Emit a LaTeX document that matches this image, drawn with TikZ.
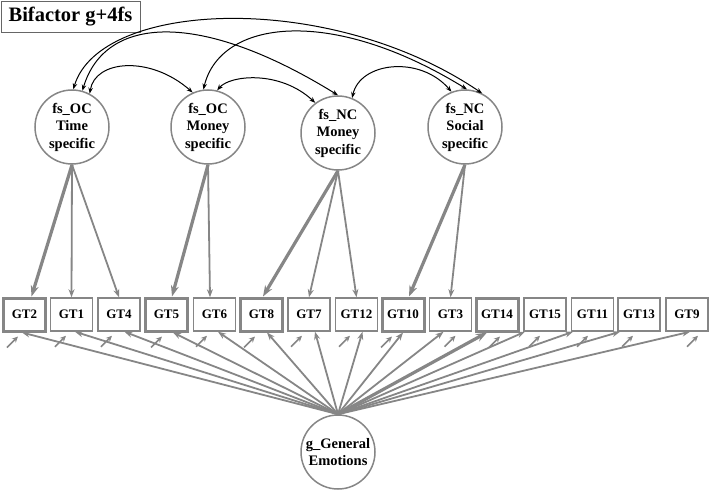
\documentclass[tikz,border=0pt]{standalone}
\usepackage{fontspec}
\setmainfont{Liberation Serif}
\usetikzlibrary{arrows.meta,calc}
\definecolor{lg}{RGB}{134,134,134}
\begin{document}
\begin{tikzpicture}[x=1pt,y=-1pt,
  lat/.style={circle,draw=lg,line width=1.5pt,minimum size=74pt,inner sep=0pt,align=center,
    font=\fontsize{14.5}{17.5}\selectfont\bfseries},
  obs/.style={rectangle,draw=lg,minimum width=42pt,minimum height=33pt,inner sep=0pt,
    font=\fontsize{13}{15}\selectfont\bfseries},
  titlebox/.style={rectangle,draw=black!60,line width=0.8pt,minimum width=139pt,minimum height=31pt,inner sep=0pt,
    font=\fontsize{20.5}{24}\selectfont\bfseries},
  load/.style={draw=lg,line width=1.8pt,-{Stealth[length=8pt,width=6pt]}},
  loadthk/.style={draw=lg,line width=3.2pt,-{Stealth[length=11pt,width=8pt]}},
  res/.style={draw=lg,line width=1.7pt,-{Stealth[length=6pt,width=5.5pt]}},
  cov/.style={draw=black,line width=1pt,{Stealth[length=6pt,width=4.5pt]}-{Stealth[length=6pt,width=4.5pt]}}
]
\useasboundingbox (0,0) rectangle (710,492);

\node[titlebox] (title) at (70.5,16.5) {Bifactor g+4fs};

\node[lat] (T) at (72,127) {fs\textunderscore OC\\Time\\specific};
\node[lat] (O) at (208,127) {fs\textunderscore OC\\Money\\specific};
\node[lat] (M) at (338,133) {fs\textunderscore NC\\Money\\specific};
\node[lat] (S) at (465,127) {fs\textunderscore NC\\Social\\specific};
\node[lat] (g) at (338,452) {g\textunderscore General\\Emotions};

\foreach \n/\x/\w in {GT2/24.5/3, GT1/71.5/1.5, GT4/119/1.5, GT5/166.5/3, GT6/214.5/1.5,
  GT8/261.5/3, GT7/309/1.5, GT12/356.5/1.5, GT10/403/3, GT3/450.5/1.5, GT14/497/3,
  GT15/545/1.5, GT11/592.5/1.5, GT13/639/1.5, GT9/687/1.5}
  \node[obs,line width=\w pt] (\n) at (\x,314.5) {\n};

% loadings
\draw[loadthk] (T.south) -- ($(GT2.north)+(7,0)$);
\draw[load] (T.south) -- (GT1.north);
\draw[load] (T.south) -- (GT4.north);
\draw[loadthk] (O.south) -- ($(GT5.north)+(5.5,0)$);
\draw[load] (O.south) -- ($(GT6.north)+(-4.5,0)$);
\draw[loadthk] (M.south) -- ($(GT8.north)+(1.5,0)$);
\draw[load] (M.south) -- (GT7.north);
\draw[load] (M.south) -- (GT12.north);
\draw[loadthk] (S.south) -- ($(GT10.north)+(6,0)$);
\draw[load] (S.south) -- (GT3.north);

% general factor and residuals
\foreach \n/\d/\r/\s in {GT2/-2.5/-6.5/load, GT1/3.5/-5.5/load, GT4/5.5/-7/load, GT5/6.5/-4.5/load,
  GT6/3.5/-7.5/load, GT8/5.5/-6.5/load, GT7/6/-7/load, GT12/6/-6.5/load, GT10/0/-11/load,
  GT3/-7/5/load, GT14/-10/3/loadthk, GT15/-20/-5/load, GT11/-19.5/-4.5/load, GT13/-19/-6/load, GT9/3/11/load}
{
  \draw[\s] (g.north) -- ($(\n.south)+(\d,0)$);
  \coordinate (e\n) at ($(\n.south)+(\r-11,15)$);
  \draw[res] (e\n) -- ($(\n.south)+(\r,4)$);
}

% covariances
\draw[cov] (T.88) .. controls (100,0) and (330,-10) .. (S.63);
\draw[cov] (T.74) .. controls (105,15) and (200,10) .. (M.90);
\draw[cov] (T.62) .. controls (95,60) and (150,55) .. (O.114);
\draw[cov] (O.97) .. controls (220,20) and (330,5) .. (S.87);
\draw[cov] (O.76) .. controls (230,75) and (280,70) .. (M.127);
\draw[cov] (M.68) .. controls (360,62) and (420,55) .. (S.111);
\end{tikzpicture}
\end{document}
